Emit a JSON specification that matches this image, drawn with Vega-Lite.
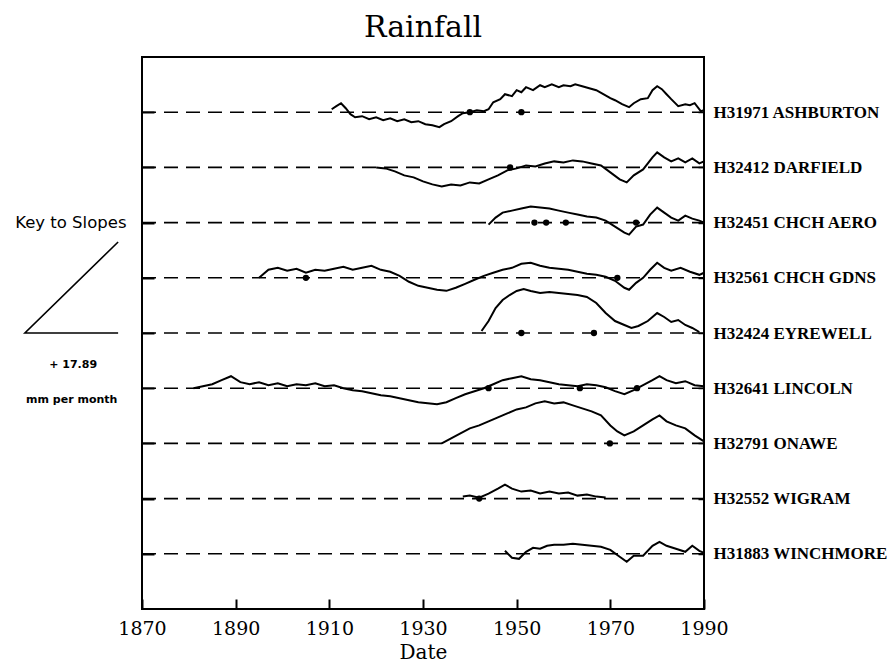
{
 "$schema": "https://vega.github.io/schema/vega-lite/v6.json",
 "width": 562, "height": 552,
 "autosize": {"type": "none"},
 "padding": {"left": 142, "top": 57, "right": 183, "bottom": 53},
 "background": "white",
 "title": {"text": "Rainfall", "font": "DejaVu Serif", "fontSize": 30, "fontWeight": "normal", "anchor": "middle", "offset": 14, "color": "black"},
 "config": {"view": {"stroke": "black", "strokeWidth": 2}},
 "datasets": {
  "stations": [
   {"s": "ASHBURTON", "row": 1}, {"s": "DARFIELD", "row": 2}, {"s": "CHCH AERO", "row": 3},
   {"s": "CHCH GDNS", "row": 4}, {"s": "EYREWELL", "row": 5}, {"s": "LINCOLN", "row": 6},
   {"s": "ONAWE", "row": 7}, {"s": "WIGRAM", "row": 8}, {"s": "WINCHMORE", "row": 9}
  ],
  "dots": [
   {"s": "ASHBURTON", "t": 1940, "y": 1}, {"s": "ASHBURTON", "t": 1951, "y": 1},
   {"s": "DARFIELD", "t": 1948.6, "y": 2},
   {"s": "CHCH AERO", "t": 1953.8, "y": 3}, {"s": "CHCH AERO", "t": 1956.3, "y": 3}, {"s": "CHCH AERO", "t": 1960.5, "y": 3}, {"s": "CHCH AERO", "t": 1975.5, "y": 3},
   {"s": "CHCH GDNS", "t": 1905, "y": 4}, {"s": "CHCH GDNS", "t": 1971.5, "y": 4},
   {"s": "EYREWELL", "t": 1951, "y": 5}, {"s": "EYREWELL", "t": 1966.5, "y": 5},
   {"s": "LINCOLN", "t": 1944, "y": 6}, {"s": "LINCOLN", "t": 1963.5, "y": 6}, {"s": "LINCOLN", "t": 1975.7, "y": 6},
   {"s": "ONAWE", "t": 1969.9, "y": 7},
   {"s": "WIGRAM", "t": 1942, "y": 8}
  ],
  "key": [
   {"k": 1, "t": 1864.9, "y": 3.351}, {"k": 2, "t": 1845.0, "y": 5}, {"k": 3, "t": 1864.9, "y": 5}
  ],
  "series": [
   {"s":"ASHBURTON","t":1910.5,"y":0.946},{"s":"ASHBURTON","t":1911.5,"y":0.891},{"s":"ASHBURTON","t":1912.5,"y":0.837},{"s":"ASHBURTON","t":1913.5,"y":0.928},{"s":"ASHBURTON","t":1914.5,"y":1.036},{"s":"ASHBURTON","t":1915.5,"y":1.091},{"s":"ASHBURTON","t":1917,"y":1.072},{"s":"ASHBURTON","t":1918.5,"y":1.127},{"s":"ASHBURTON","t":1920,"y":1.091},{"s":"ASHBURTON","t":1921.5,"y":1.145},{"s":"ASHBURTON","t":1923,"y":1.109},{"s":"ASHBURTON","t":1924.5,"y":1.163},{"s":"ASHBURTON","t":1926,"y":1.127},{"s":"ASHBURTON","t":1927.5,"y":1.181},{"s":"ASHBURTON","t":1929,"y":1.163},{"s":"ASHBURTON","t":1930.5,"y":1.217},{"s":"ASHBURTON","t":1932,"y":1.236},{"s":"ASHBURTON","t":1933.5,"y":1.272},{"s":"ASHBURTON","t":1934.5,"y":1.217},{"s":"ASHBURTON","t":1936,"y":1.163},{"s":"ASHBURTON","t":1937.5,"y":1.072},{"s":"ASHBURTON","t":1938.5,"y":1.018},{"s":"ASHBURTON","t":1940,"y":1.0},{"s":"ASHBURTON","t":1941.5,"y":0.964},{"s":"ASHBURTON","t":1943,"y":0.982},{"s":"ASHBURTON","t":1944,"y":0.946},{"s":"ASHBURTON","t":1945,"y":0.819},{"s":"ASHBURTON","t":1946.5,"y":0.764},{"s":"ASHBURTON","t":1947.5,"y":0.674},{"s":"ASHBURTON","t":1949,"y":0.71},{"s":"ASHBURTON","t":1950,"y":0.601},{"s":"ASHBURTON","t":1951,"y":0.638},{"s":"ASHBURTON","t":1952,"y":0.547},{"s":"ASHBURTON","t":1953.5,"y":0.601},{"s":"ASHBURTON","t":1955,"y":0.511},{"s":"ASHBURTON","t":1956,"y":0.547},{"s":"ASHBURTON","t":1957.5,"y":0.493},{"s":"ASHBURTON","t":1959,"y":0.547},{"s":"ASHBURTON","t":1960,"y":0.511},{"s":"ASHBURTON","t":1961.5,"y":0.529},{"s":"ASHBURTON","t":1962.5,"y":0.493},{"s":"ASHBURTON","t":1964,"y":0.529},{"s":"ASHBURTON","t":1965.5,"y":0.565},{"s":"ASHBURTON","t":1967,"y":0.601},{"s":"ASHBURTON","t":1968.5,"y":0.674},{"s":"ASHBURTON","t":1970,"y":0.746},{"s":"ASHBURTON","t":1971,"y":0.783},{"s":"ASHBURTON","t":1972.5,"y":0.855},{"s":"ASHBURTON","t":1974,"y":0.909},{"s":"ASHBURTON","t":1975,"y":0.837},{"s":"ASHBURTON","t":1976.5,"y":0.764},{"s":"ASHBURTON","t":1978,"y":0.746},{"s":"ASHBURTON","t":1979,"y":0.601},{"s":"ASHBURTON","t":1980,"y":0.529},{"s":"ASHBURTON","t":1981,"y":0.583},{"s":"ASHBURTON","t":1982,"y":0.674},{"s":"ASHBURTON","t":1983,"y":0.764},{"s":"ASHBURTON","t":1984.5,"y":0.891},{"s":"ASHBURTON","t":1986,"y":0.855},{"s":"ASHBURTON","t":1987,"y":0.873},{"s":"ASHBURTON","t":1988,"y":0.837},{"s":"ASHBURTON","t":1989.3,"y":0.982},{"s":"ASHBURTON","t":1990,"y":0.964},
   {"s":"DARFIELD","t":1920,"y":2.0},{"s":"DARFIELD","t":1922,"y":2.018},{"s":"DARFIELD","t":1924,"y":2.072},{"s":"DARFIELD","t":1926,"y":2.145},{"s":"DARFIELD","t":1928,"y":2.181},{"s":"DARFIELD","t":1930,"y":2.254},{"s":"DARFIELD","t":1932,"y":2.308},{"s":"DARFIELD","t":1934,"y":2.344},{"s":"DARFIELD","t":1936,"y":2.308},{"s":"DARFIELD","t":1938,"y":2.326},{"s":"DARFIELD","t":1940,"y":2.272},{"s":"DARFIELD","t":1942,"y":2.29},{"s":"DARFIELD","t":1944,"y":2.217},{"s":"DARFIELD","t":1946,"y":2.145},{"s":"DARFIELD","t":1948,"y":2.054},{"s":"DARFIELD","t":1950,"y":2.018},{"s":"DARFIELD","t":1952,"y":1.964},{"s":"DARFIELD","t":1954,"y":1.982},{"s":"DARFIELD","t":1956,"y":1.928},{"s":"DARFIELD","t":1958,"y":1.891},{"s":"DARFIELD","t":1960,"y":1.909},{"s":"DARFIELD","t":1962,"y":1.873},{"s":"DARFIELD","t":1964,"y":1.891},{"s":"DARFIELD","t":1966,"y":1.928},{"s":"DARFIELD","t":1968,"y":1.964},{"s":"DARFIELD","t":1970,"y":2.091},{"s":"DARFIELD","t":1972,"y":2.217},{"s":"DARFIELD","t":1973.5,"y":2.272},{"s":"DARFIELD","t":1975,"y":2.145},{"s":"DARFIELD","t":1977,"y":2.036},{"s":"DARFIELD","t":1979,"y":1.819},{"s":"DARFIELD","t":1980,"y":1.728},{"s":"DARFIELD","t":1981.5,"y":1.819},{"s":"DARFIELD","t":1983,"y":1.891},{"s":"DARFIELD","t":1984.5,"y":1.837},{"s":"DARFIELD","t":1986,"y":1.909},{"s":"DARFIELD","t":1987.5,"y":1.837},{"s":"DARFIELD","t":1989,"y":1.928},{"s":"DARFIELD","t":1990,"y":1.891},
   {"s":"CHCH AERO","t":1944,"y":3.036},{"s":"CHCH AERO","t":1945.5,"y":2.909},{"s":"CHCH AERO","t":1947,"y":2.819},{"s":"CHCH AERO","t":1949,"y":2.783},{"s":"CHCH AERO","t":1951,"y":2.746},{"s":"CHCH AERO","t":1953,"y":2.71},{"s":"CHCH AERO","t":1955,"y":2.728},{"s":"CHCH AERO","t":1957,"y":2.746},{"s":"CHCH AERO","t":1959,"y":2.783},{"s":"CHCH AERO","t":1961,"y":2.819},{"s":"CHCH AERO","t":1963,"y":2.855},{"s":"CHCH AERO","t":1965,"y":2.891},{"s":"CHCH AERO","t":1967,"y":2.909},{"s":"CHCH AERO","t":1969,"y":2.964},{"s":"CHCH AERO","t":1971,"y":3.072},{"s":"CHCH AERO","t":1973,"y":3.181},{"s":"CHCH AERO","t":1974,"y":3.217},{"s":"CHCH AERO","t":1975.5,"y":3.072},{"s":"CHCH AERO","t":1977,"y":3.036},{"s":"CHCH AERO","t":1978.5,"y":2.855},{"s":"CHCH AERO","t":1980,"y":2.728},{"s":"CHCH AERO","t":1981.5,"y":2.819},{"s":"CHCH AERO","t":1983,"y":2.909},{"s":"CHCH AERO","t":1984.5,"y":2.964},{"s":"CHCH AERO","t":1986,"y":2.873},{"s":"CHCH AERO","t":1987.5,"y":2.928},{"s":"CHCH AERO","t":1989,"y":2.964},{"s":"CHCH AERO","t":1990,"y":3.0},
   {"s":"CHCH GDNS","t":1895,"y":4.0},{"s":"CHCH GDNS","t":1897,"y":3.855},{"s":"CHCH GDNS","t":1899,"y":3.819},{"s":"CHCH GDNS","t":1901,"y":3.873},{"s":"CHCH GDNS","t":1903,"y":3.837},{"s":"CHCH GDNS","t":1905,"y":3.909},{"s":"CHCH GDNS","t":1907,"y":3.855},{"s":"CHCH GDNS","t":1909,"y":3.873},{"s":"CHCH GDNS","t":1911,"y":3.837},{"s":"CHCH GDNS","t":1913,"y":3.801},{"s":"CHCH GDNS","t":1915,"y":3.855},{"s":"CHCH GDNS","t":1917,"y":3.819},{"s":"CHCH GDNS","t":1919,"y":3.783},{"s":"CHCH GDNS","t":1921,"y":3.855},{"s":"CHCH GDNS","t":1923,"y":3.891},{"s":"CHCH GDNS","t":1925,"y":3.964},{"s":"CHCH GDNS","t":1927,"y":4.072},{"s":"CHCH GDNS","t":1929,"y":4.145},{"s":"CHCH GDNS","t":1931,"y":4.181},{"s":"CHCH GDNS","t":1933,"y":4.217},{"s":"CHCH GDNS","t":1935,"y":4.236},{"s":"CHCH GDNS","t":1937,"y":4.181},{"s":"CHCH GDNS","t":1939,"y":4.109},{"s":"CHCH GDNS","t":1941,"y":4.036},{"s":"CHCH GDNS","t":1943,"y":3.964},{"s":"CHCH GDNS","t":1945,"y":3.909},{"s":"CHCH GDNS","t":1947,"y":3.855},{"s":"CHCH GDNS","t":1949,"y":3.819},{"s":"CHCH GDNS","t":1951,"y":3.746},{"s":"CHCH GDNS","t":1953,"y":3.728},{"s":"CHCH GDNS","t":1955,"y":3.783},{"s":"CHCH GDNS","t":1957,"y":3.819},{"s":"CHCH GDNS","t":1959,"y":3.837},{"s":"CHCH GDNS","t":1961,"y":3.855},{"s":"CHCH GDNS","t":1963,"y":3.891},{"s":"CHCH GDNS","t":1965,"y":3.928},{"s":"CHCH GDNS","t":1967,"y":3.946},{"s":"CHCH GDNS","t":1969,"y":3.982},{"s":"CHCH GDNS","t":1971,"y":4.054},{"s":"CHCH GDNS","t":1973,"y":4.181},{"s":"CHCH GDNS","t":1974,"y":4.217},{"s":"CHCH GDNS","t":1975.5,"y":4.091},{"s":"CHCH GDNS","t":1977,"y":4.0},{"s":"CHCH GDNS","t":1978.5,"y":3.855},{"s":"CHCH GDNS","t":1980,"y":3.728},{"s":"CHCH GDNS","t":1981.5,"y":3.819},{"s":"CHCH GDNS","t":1983,"y":3.873},{"s":"CHCH GDNS","t":1985,"y":3.819},{"s":"CHCH GDNS","t":1987,"y":3.891},{"s":"CHCH GDNS","t":1989,"y":3.946},{"s":"CHCH GDNS","t":1990,"y":3.909},
   {"s":"EYREWELL","t":1942.5,"y":4.964},{"s":"EYREWELL","t":1944,"y":4.783},{"s":"EYREWELL","t":1945.5,"y":4.547},{"s":"EYREWELL","t":1947,"y":4.402},{"s":"EYREWELL","t":1948.5,"y":4.312},{"s":"EYREWELL","t":1950,"y":4.239},{"s":"EYREWELL","t":1951.5,"y":4.203},{"s":"EYREWELL","t":1953,"y":4.239},{"s":"EYREWELL","t":1955,"y":4.275},{"s":"EYREWELL","t":1957,"y":4.257},{"s":"EYREWELL","t":1959,"y":4.275},{"s":"EYREWELL","t":1961,"y":4.293},{"s":"EYREWELL","t":1963,"y":4.312},{"s":"EYREWELL","t":1965,"y":4.348},{"s":"EYREWELL","t":1967,"y":4.457},{"s":"EYREWELL","t":1969,"y":4.638},{"s":"EYREWELL","t":1971,"y":4.783},{"s":"EYREWELL","t":1973,"y":4.855},{"s":"EYREWELL","t":1974.5,"y":4.909},{"s":"EYREWELL","t":1976,"y":4.873},{"s":"EYREWELL","t":1978,"y":4.783},{"s":"EYREWELL","t":1980,"y":4.638},{"s":"EYREWELL","t":1981.5,"y":4.71},{"s":"EYREWELL","t":1983,"y":4.801},{"s":"EYREWELL","t":1984.5,"y":4.764},{"s":"EYREWELL","t":1986,"y":4.855},{"s":"EYREWELL","t":1987.5,"y":4.909},{"s":"EYREWELL","t":1989,"y":4.982},
   {"s":"LINCOLN","t":1881,"y":6.0},{"s":"LINCOLN","t":1883,"y":5.964},{"s":"LINCOLN","t":1885,"y":5.928},{"s":"LINCOLN","t":1887,"y":5.855},{"s":"LINCOLN","t":1889,"y":5.783},{"s":"LINCOLN","t":1891,"y":5.891},{"s":"LINCOLN","t":1893,"y":5.928},{"s":"LINCOLN","t":1895,"y":5.891},{"s":"LINCOLN","t":1897,"y":5.946},{"s":"LINCOLN","t":1899,"y":5.909},{"s":"LINCOLN","t":1901,"y":5.964},{"s":"LINCOLN","t":1903,"y":5.928},{"s":"LINCOLN","t":1905,"y":5.946},{"s":"LINCOLN","t":1907,"y":5.909},{"s":"LINCOLN","t":1909,"y":5.964},{"s":"LINCOLN","t":1911,"y":5.946},{"s":"LINCOLN","t":1913,"y":6.0},{"s":"LINCOLN","t":1915,"y":6.036},{"s":"LINCOLN","t":1917,"y":6.054},{"s":"LINCOLN","t":1919,"y":6.091},{"s":"LINCOLN","t":1921,"y":6.127},{"s":"LINCOLN","t":1923,"y":6.145},{"s":"LINCOLN","t":1925,"y":6.181},{"s":"LINCOLN","t":1927,"y":6.217},{"s":"LINCOLN","t":1929,"y":6.254},{"s":"LINCOLN","t":1931,"y":6.272},{"s":"LINCOLN","t":1933,"y":6.29},{"s":"LINCOLN","t":1935,"y":6.254},{"s":"LINCOLN","t":1937,"y":6.181},{"s":"LINCOLN","t":1939,"y":6.109},{"s":"LINCOLN","t":1941,"y":6.054},{"s":"LINCOLN","t":1943,"y":6.0},{"s":"LINCOLN","t":1945,"y":5.928},{"s":"LINCOLN","t":1947,"y":5.855},{"s":"LINCOLN","t":1949,"y":5.819},{"s":"LINCOLN","t":1951,"y":5.783},{"s":"LINCOLN","t":1953,"y":5.837},{"s":"LINCOLN","t":1955,"y":5.855},{"s":"LINCOLN","t":1957,"y":5.891},{"s":"LINCOLN","t":1959,"y":5.928},{"s":"LINCOLN","t":1961,"y":5.946},{"s":"LINCOLN","t":1963,"y":5.964},{"s":"LINCOLN","t":1965,"y":5.928},{"s":"LINCOLN","t":1967,"y":5.946},{"s":"LINCOLN","t":1969,"y":5.982},{"s":"LINCOLN","t":1971,"y":6.054},{"s":"LINCOLN","t":1973,"y":6.109},{"s":"LINCOLN","t":1975,"y":6.036},{"s":"LINCOLN","t":1977,"y":5.946},{"s":"LINCOLN","t":1979,"y":5.855},{"s":"LINCOLN","t":1980.5,"y":5.783},{"s":"LINCOLN","t":1982,"y":5.855},{"s":"LINCOLN","t":1984,"y":5.909},{"s":"LINCOLN","t":1986,"y":5.873},{"s":"LINCOLN","t":1988,"y":5.946},{"s":"LINCOLN","t":1990,"y":5.964},
   {"s":"ONAWE","t":1934,"y":7.0},{"s":"ONAWE","t":1936,"y":6.909},{"s":"ONAWE","t":1938,"y":6.819},{"s":"ONAWE","t":1940,"y":6.728},{"s":"ONAWE","t":1942,"y":6.674},{"s":"ONAWE","t":1944,"y":6.601},{"s":"ONAWE","t":1946,"y":6.529},{"s":"ONAWE","t":1948,"y":6.457},{"s":"ONAWE","t":1950,"y":6.384},{"s":"ONAWE","t":1952,"y":6.348},{"s":"ONAWE","t":1954,"y":6.275},{"s":"ONAWE","t":1956,"y":6.239},{"s":"ONAWE","t":1958,"y":6.275},{"s":"ONAWE","t":1960,"y":6.257},{"s":"ONAWE","t":1962,"y":6.312},{"s":"ONAWE","t":1964,"y":6.366},{"s":"ONAWE","t":1966,"y":6.42},{"s":"ONAWE","t":1968,"y":6.493},{"s":"ONAWE","t":1970,"y":6.674},{"s":"ONAWE","t":1971.5,"y":6.783},{"s":"ONAWE","t":1973,"y":6.855},{"s":"ONAWE","t":1975,"y":6.783},{"s":"ONAWE","t":1977,"y":6.674},{"s":"ONAWE","t":1979,"y":6.565},{"s":"ONAWE","t":1980.5,"y":6.493},{"s":"ONAWE","t":1982,"y":6.601},{"s":"ONAWE","t":1984,"y":6.674},{"s":"ONAWE","t":1986,"y":6.728},{"s":"ONAWE","t":1988,"y":6.855},{"s":"ONAWE","t":1990,"y":6.964},
   {"s":"WIGRAM","t":1938.5,"y":7.964},{"s":"WIGRAM","t":1940,"y":7.946},{"s":"WIGRAM","t":1942,"y":7.982},{"s":"WIGRAM","t":1944,"y":7.909},{"s":"WIGRAM","t":1946,"y":7.819},{"s":"WIGRAM","t":1947.5,"y":7.746},{"s":"WIGRAM","t":1949,"y":7.819},{"s":"WIGRAM","t":1951,"y":7.873},{"s":"WIGRAM","t":1953,"y":7.855},{"s":"WIGRAM","t":1955,"y":7.909},{"s":"WIGRAM","t":1957,"y":7.873},{"s":"WIGRAM","t":1959,"y":7.909},{"s":"WIGRAM","t":1961,"y":7.891},{"s":"WIGRAM","t":1963,"y":7.946},{"s":"WIGRAM","t":1965,"y":7.928},{"s":"WIGRAM","t":1967,"y":7.964},{"s":"WIGRAM","t":1969,"y":7.982},
   {"s":"WINCHMORE","t":1947.5,"y":8.946},{"s":"WINCHMORE","t":1949,"y":9.072},{"s":"WINCHMORE","t":1950.5,"y":9.091},{"s":"WINCHMORE","t":1952,"y":8.964},{"s":"WINCHMORE","t":1953.5,"y":8.891},{"s":"WINCHMORE","t":1955,"y":8.909},{"s":"WINCHMORE","t":1956.5,"y":8.855},{"s":"WINCHMORE","t":1958,"y":8.837},{"s":"WINCHMORE","t":1960,"y":8.837},{"s":"WINCHMORE","t":1962,"y":8.819},{"s":"WINCHMORE","t":1964,"y":8.837},{"s":"WINCHMORE","t":1966,"y":8.855},{"s":"WINCHMORE","t":1968,"y":8.873},{"s":"WINCHMORE","t":1970,"y":8.928},{"s":"WINCHMORE","t":1972,"y":9.054},{"s":"WINCHMORE","t":1973.5,"y":9.145},{"s":"WINCHMORE","t":1975,"y":9.036},{"s":"WINCHMORE","t":1977,"y":9.036},{"s":"WINCHMORE","t":1979,"y":8.855},{"s":"WINCHMORE","t":1980.5,"y":8.783},{"s":"WINCHMORE","t":1982,"y":8.855},{"s":"WINCHMORE","t":1984,"y":8.909},{"s":"WINCHMORE","t":1986,"y":8.964},{"s":"WINCHMORE","t":1987.5,"y":8.855},{"s":"WINCHMORE","t":1989,"y":8.946},{"s":"WINCHMORE","t":1990,"y":8.982}
  ]
 },
 "resolve": {"axis": {"y": "independent", "x": "independent"}},
 "layer": [
  {
   "data": {"name": "stations"},
   "mark": {"type": "rule", "strokeDash": [14, 8], "strokeWidth": 1.6, "color": "black"},
   "encoding": {
    "x": {"datum": 1870, "type": "quantitative", "scale": {"domain": [1870, 1990], "nice": false, "zero": false},
      "axis": {"orient": "bottom", "values": [1870, 1890, 1910, 1930, 1950, 1970, 1990], "format": "d", "tickSize": -10, "tickColor": "black", "tickWidth": 2, "domain": false, "grid": false, "labelFont": "DejaVu Serif", "labelFontSize": 19, "labelColor": "black", "labelPadding": 20, "labelFlush": false, "labelOverlap": false, "title": "Date", "titleFont": "DejaVu Serif", "titleFontSize": 20, "titleFontWeight": "normal", "titleColor": "black", "titlePadding": 4}},
    "x2": {"datum": 1990},
    "y": {"field": "row", "type": "quantitative", "scale": {"domain": [0, 10], "reverse": true, "nice": false, "zero": false},
      "axis": {"orient": "left", "values": [1, 2, 3, 4, 5, 6, 7, 8, 9], "labels": false, "tickSize": -12, "tickColor": "black", "tickWidth": 2, "domain": false, "grid": false, "title": null}}
   }
  },
  {
   "data": {"name": "series"},
   "mark": {"type": "line", "color": "black", "strokeWidth": 2},
   "encoding": {
    "x": {"field": "t", "type": "quantitative", "axis": null},
    "y": {"field": "y", "type": "quantitative",
      "axis": {"orient": "right", "values": [1, 2, 3, 4, 5, 6, 7, 8, 9], "labelExpr": "['','H31971 ASHBURTON','H32412 DARFIELD','H32451 CHCH AERO','H32561 CHCH GDNS','H32424 EYREWELL','H32641 LINCOLN','H32791 ONAWE','H32552 WIGRAM','H31883 WINCHMORE'][datum.value]", "tickSize": -6, "tickColor": "black", "tickWidth": 1.5, "domain": false, "grid": false, "title": null, "labelFont": "Liberation Serif", "labelFontWeight": "bold", "labelFontSize": 17, "labelColor": "black", "labelPadding": 15}},
    "detail": {"field": "s"}
   }
  },
  {
   "data": {"name": "dots"},
   "mark": {"type": "point", "filled": true, "color": "black", "size": 40, "opacity": 1},
   "encoding": {
    "x": {"field": "t", "type": "quantitative", "axis": null},
    "y": {"field": "y", "type": "quantitative", "axis": null}
   }
  },
  {
   "data": {"name": "key"},
   "mark": {"type": "line", "color": "black", "strokeWidth": 1.6, "clip": false},
   "encoding": {
    "x": {"field": "t", "type": "quantitative", "axis": null},
    "y": {"field": "y", "type": "quantitative", "axis": null},
    "order": {"field": "k"}
   }
  },
  {
   "data": {"values": [{"t": 1854.8, "y": 3, "label": "Key to Slopes"}]},
   "mark": {"type": "text", "font": "DejaVu Sans", "fontSize": 16.5, "color": "black", "align": "center", "baseline": "middle", "clip": false},
   "encoding": {
    "x": {"field": "t", "type": "quantitative", "axis": null},
    "y": {"field": "y", "type": "quantitative", "axis": null},
    "text": {"field": "label"}
   }
  },
  {
   "data": {"values": [{"t": 1855.3, "y": 5.58, "label": "+ 17.89"}, {"t": 1855.0, "y": 6.22, "label": "mm per month"}]},
   "mark": {"type": "text", "font": "DejaVu Sans", "fontSize": 11, "fontWeight": "bold", "color": "black", "align": "center", "baseline": "middle", "clip": false},
   "encoding": {
    "x": {"field": "t", "type": "quantitative", "axis": null},
    "y": {"field": "y", "type": "quantitative", "axis": null},
    "text": {"field": "label"}
   }
  }
 ]
}
